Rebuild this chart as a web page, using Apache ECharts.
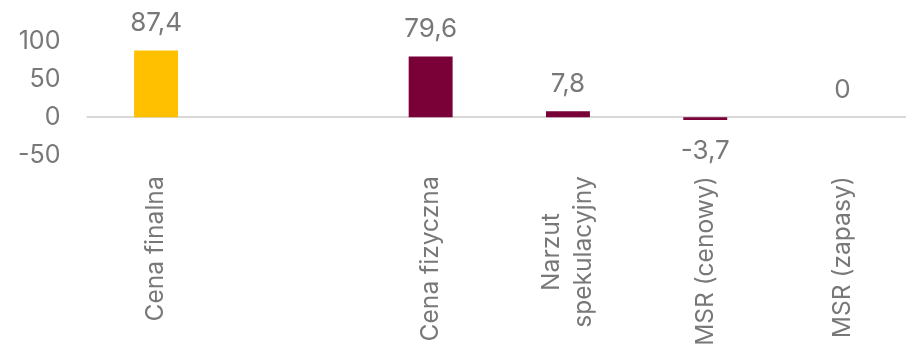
<!DOCTYPE html>
<html>
<head>
<meta charset="utf-8">
<script src="https://cdn.jsdelivr.net/npm/echarts@6/dist/echarts.min.js"></script>
<style>
  html, body { margin: 0; padding: 0; background: #ffffff; }
  #chart { width: 906px; height: 347px; }
</style>
</head>
<body>
<div id="chart"></div>
<script>
// Decomposition of the final price (values in the chart's units)
const categories = ['Cena finalna', '', 'Cena fizyczna', 'Narzut\nspekulacyjny', 'MSR (cenowy)', 'MSR (zapasy)'];
const values = [87.4, null, 79.6, 7.8, -3.7, 0];
const yTicks = { min: -50, max: 100, interval: 50 };

const TEXT = '#787878';
const FONT = 'Inter';
const GOLD = '#FFC000';
const MAROON = '#7A0038';

const seriesData = values.map((v, i) => {
  if (v === null) return null;
  const neg = v < 0;
  return {
    value: v,
    itemStyle: { color: i === 0 ? GOLD : MAROON },
    label: neg ? { position: 'bottom', distance: 18 } : { position: 'top', distance: 14 }
  };
});

// Multi-line category names keep each line centred within the label block
const axisCategories = categories.map(c =>
  c.includes('\n') ? c.split('\n').map(s => '{c|' + s + '}').join('\n') : c
);

const chart = echarts.init(document.getElementById('chart'), null, { renderer: 'canvas' });
chart.setOption({
  animation: false,
  textStyle: { fontFamily: FONT },
  grid: { left: 87.4, width: 823.8, top: 41, bottom: 191.7, containLabel: false, outerBoundsMode: 'none' },
  xAxis: {
    type: 'category',
    data: axisCategories,
    axisLine: { onZero: true, lineStyle: { color: '#d9d9d9', width: 2 } },
    axisTick: { show: false },
    axisLabel: {
      rotate: 90,
      interval: 0,
      margin: 21,
      color: TEXT,
      fontFamily: FONT,
      fontSize: 24.6,
      lineHeight: 32,
      rich: { c: { align: 'center', color: TEXT, fontFamily: FONT, fontSize: 24.6, lineHeight: 32 } }
    }
  },
  yAxis: {
    type: 'value',
    min: yTicks.min,
    max: yTicks.max,
    interval: yTicks.interval,
    axisLine: { show: false },
    axisTick: { show: false },
    splitLine: { show: false },
    axisLabel: { color: TEXT, fontFamily: FONT, fontSize: 25, margin: 27 }
  },
  series: [{
    type: 'bar',
    data: seriesData,
    barWidth: '32%',
    label: {
      show: true,
      color: TEXT,
      fontFamily: FONT,
      fontSize: 26,
      formatter: p => String(p.value).replace('.', ',')
    }
  }]
});
</script>
</body>
</html>
